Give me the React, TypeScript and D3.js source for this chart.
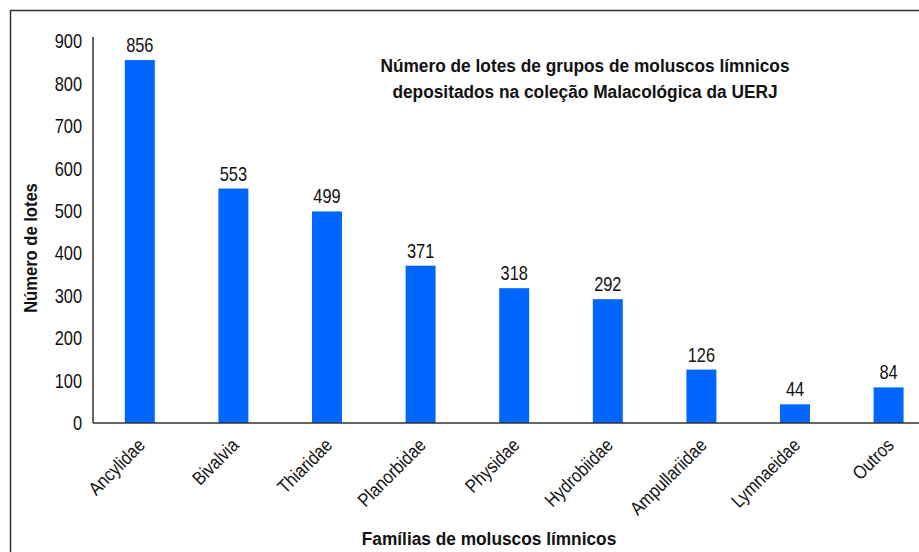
import React from "react";
import * as d3 from "d3";

const categories = ["Ancylidae", "Bivalvia", "Thiaridae", "Planorbidae", "Physidae", "Hydrobiidae", "Ampullariidae", "Lymnaeidae", "Outros"];
const values = [856, 553, 499, 371, 318, 292, 126, 44, 84];
const yTicks = [0, 100, 200, 300, 400, 500, 600, 700, 800, 900];
const titleLines = ["Número de lotes de grupos de moluscos límnicos", "depositados na coleção Malacológica da UERJ"];
const yTitle = "Número de lotes";
const xTitle = "Famílias de moluscos límnicos";

const FONT = "'Liberation Sans', Arial, sans-serif";

export default function App() {
  const W = 919, H = 552;
  const x0 = 93, x1 = 935.4, yBase = 423;
  const x = d3.scaleBand<string>().domain(categories).range([x0, x1]).paddingInner(0.68).paddingOuter(0.34);
  const y = d3.scaleLinear().domain([0, 900]).range([yBase, 41.4]);
  const NS = 0.82; // narrow look for numbers
  return (
    <svg width={W} height={H} style={{ position: "absolute", left: 0, top: 0, background: "#fff" }} fontFamily={FONT}>
      <rect x={10.5} y={10.5} width={940} height={600} fill="none" stroke="#333" strokeWidth={1.5} />
      <line x1={x0} x2={x0} y1={37} y2={yBase} stroke="#000" strokeWidth={1.2} />
      {yTicks.map((t) => (
        <text key={t} transform={`translate(82,${y(t)}) scale(${NS},1)`} dy="0.35em" textAnchor="end" fontSize={20} fill="#111">{t}</text>
      ))}
      {categories.map((c, i) => (
        <g key={c}>
          <rect x={x(c)} y={y(values[i])} width={x.bandwidth()} height={yBase - y(values[i])} fill="#0066FF" />
          <text transform={`translate(${x(c)! + x.bandwidth() / 2},${y(values[i]) - 8}) scale(${NS},1)`} textAnchor="middle" fontSize={20} fill="#111">{values[i]}</text>
          <text transform={`translate(${x(c)! + x.bandwidth() / 2 - 3},${yBase + 14}) rotate(-45) scale(0.86,1)`} textAnchor="end" dy="0.7em" fontSize={19} fill="#111">{c}</text>
        </g>
      ))}
      <line x1={x0} x2={x1} y1={yBase} y2={yBase} stroke="#333" strokeWidth={1.5} />
      {titleLines.map((l, i) => (
        <text key={i} transform={`translate(585,${72 + i * 26}) scale(0.91,1)`} textAnchor="middle" fontSize={19} fontWeight="bold" fill="#111">{l}</text>
      ))}
      <text transform={`translate(37,248) rotate(-90) scale(0.92,1)`} textAnchor="middle" fontSize={18} fontWeight="bold" fill="#111">{yTitle}</text>
      <text transform={`translate(489,545) scale(0.91,1)`} textAnchor="middle" fontSize={19} fontWeight="bold" fill="#111">{xTitle}</text>
    </svg>
  );
}
